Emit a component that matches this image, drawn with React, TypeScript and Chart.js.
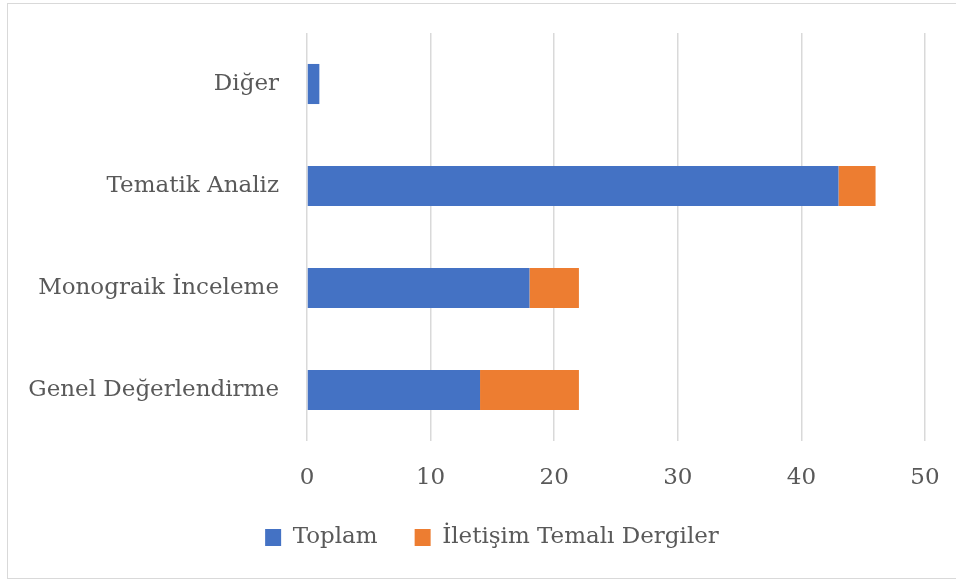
import React, { useEffect, useRef } from "react";
import { Chart, registerables } from "chart.js";

Chart.register(...registerables);

const categories = ["Diğer", "Tematik Analiz", "Monograik İnceleme", "Genel Değerlendirme"];
const toplam = [1, 43, 18, 14];
const iletisim = [0, 3, 4, 8];
const seriesNames = ["Toplam", "İletişim Temalı Dergiler"];
const xMin = 0;
const xMax = 50;
const xStep = 10;

const FONT = "'DejaVu Serif', serif";
const TEXT = "#595959";
const GRID = "#d9d9d9";

const shiftLegend = {
  id: "shiftLegend",
  afterLayout(chart: any) {
    const l = chart.legend;
    if (l) {
      l.left += 25.5;
      l.right += 25.5;
    }
  },
};

export default function App() {
  const ref = useRef<HTMLCanvasElement | null>(null);

  useEffect(() => {
    if (!ref.current) return;
    const chart = new Chart(ref.current, {
      type: "bar",
      data: {
        labels: categories,
        datasets: [
          {
            label: seriesNames[0],
            data: toplam,
            backgroundColor: "#4472C4",
            barPercentage: 0.393,
            categoryPercentage: 1,
          },
          {
            label: seriesNames[1],
            data: iletisim,
            backgroundColor: "#ED7D31",
            barPercentage: 0.393,
            categoryPercentage: 1,
          },
        ],
      },
      options: {
        indexAxis: "y",
        animation: false,
        responsive: false,
        maintainAspectRatio: false,
        layout: { padding: { left: 0, right: 31, top: 29, bottom: 0 } },
        scales: {
          x: {
            stacked: true,
            min: xMin,
            max: xMax,
            ticks: {
              stepSize: xStep,
              color: TEXT,
              font: { family: FONT, size: 23 },
              padding: 23,
            },
            grid: { color: GRID, lineWidth: 1.5, drawTicks: false },
            border: { display: false },
            afterFit: (s: any) => {
              s.height = 48;
              s.paddingLeft = 0;
              s.paddingRight = 0;
            },
          },
          y: {
            stacked: true,
            ticks: {
              color: TEXT,
              font: { family: FONT, size: 23 },
              padding: 28,
            },
            grid: { display: false, drawTicks: false },
            border: { display: false },
            afterFit: (s: any) => {
              s.width = 299;
              s.paddingTop = 0;
              s.paddingBottom = 0;
            },
          },
        },
        plugins: {
          legend: {
            position: "bottom",
            labels: {
              color: TEXT,
              font: { family: FONT, size: 23 },
              boxWidth: 16,
              boxHeight: 17,
              padding: 37,
            },
          },
          tooltip: { enabled: false },
        },
      },
      plugins: [shiftLegend],
    });
    return () => chart.destroy();
  }, []);

  return (
    <div>
      <div
        style={{
          position: "fixed",
          left: 7,
          top: 3,
          width: 960,
          height: 574,
          border: "1px solid #d9d9d9",
          boxSizing: "content-box",
        }}
      />
      <canvas
        ref={ref}
        width={948}
        height={555}
        style={{ position: "fixed", left: 8, top: 4, width: 948, height: 555 }}
      />
    </div>
  );
}
